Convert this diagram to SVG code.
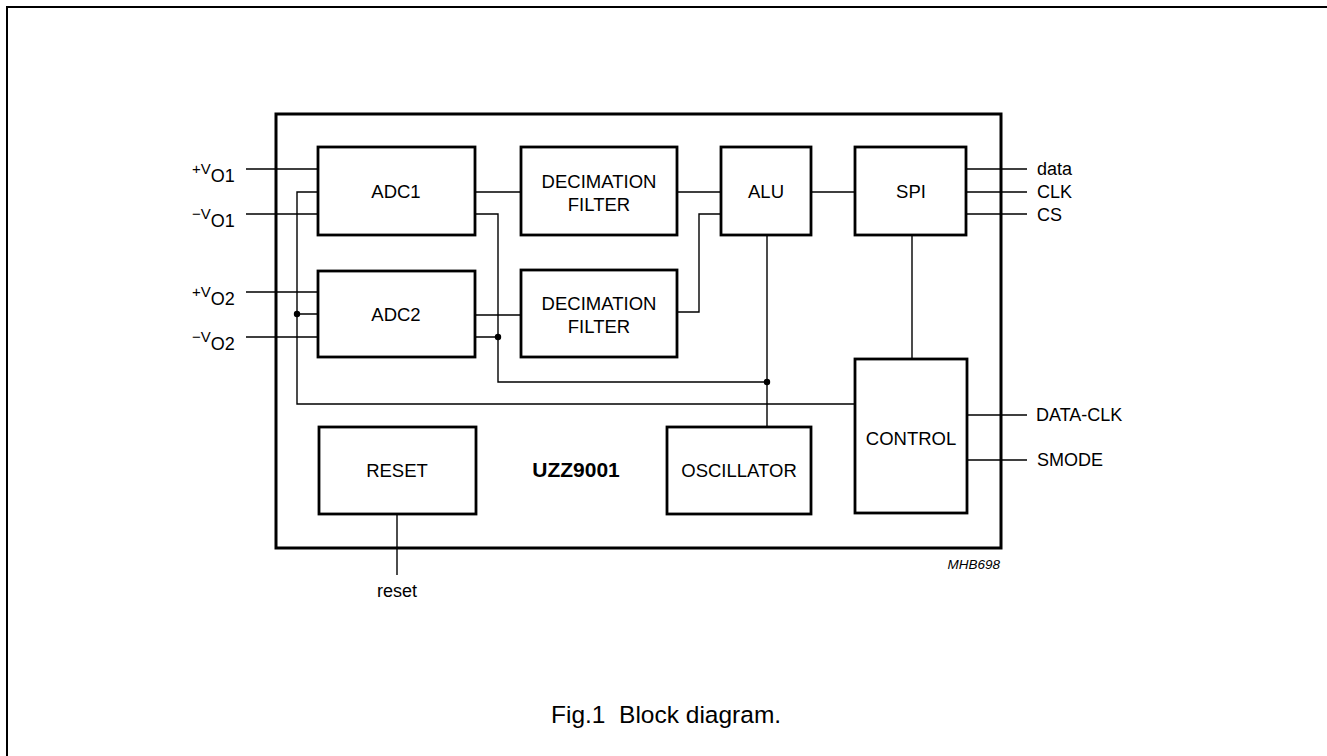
<svg xmlns="http://www.w3.org/2000/svg" width="1327" height="756" viewBox="0 0 1327 756">
<style>
.box{fill:#fff;stroke:#000;stroke-width:2.8}
.chip{fill:none;stroke:#000;stroke-width:3}
.w{fill:none;stroke:#000;stroke-width:1.4}
.t{font-family:"Liberation Sans",Arial,sans-serif;font-size:18.5px;fill:#000;text-anchor:middle}
.l{font-family:"Liberation Sans",Arial,sans-serif;font-size:18px;fill:#000}
.s{font-size:15px}
.b{font-size:21px;font-weight:bold;text-anchor:middle}
.m{font-size:13.5px;font-style:italic;text-anchor:end}
.c{font-size:24.5px}
</style>
<rect width="1327" height="756" fill="#fff"/>
<path d="M7,756 V7 H1327" fill="none" stroke="#000" stroke-width="2"/>
<rect id="chip" class="chip" x="276" y="114" width="725" height="434"/>
<g id="connectors">
<path class="w" d="M246,169 H318 M246,214 H318 M246,292 H318 M246,337 H318"/>
<path class="w" d="M318,192 H297 V404 H855 M297,314 H318"/>
<path class="w" d="M475,192 H521 M475,315 H521"/>
<path class="w" d="M475,214 H498 V382 H767 M475,337 H498"/>
<path class="w" d="M677,192 H721 M677,312 H699 V214 H721"/>
<path class="w" d="M767,235 V427 M811,192 H855 M912,235 V359"/>
<path class="w" d="M966,169 H1027 M966,192 H1027 M966,214 H1027 M967,415 H1027 M967,460 H1027"/>
<path class="w" d="M397,514 V575"/>
<circle cx="297" cy="314" r="3.2"/>
<circle cx="498" cy="337" r="3.2"/>
<circle cx="767" cy="382" r="3.2"/>
</g>
<g id="adc1"><rect class="box" x="318" y="147" width="157" height="88"/><text class="t" x="396" y="198">ADC1</text></g>
<g id="adc2"><rect class="box" x="318" y="271" width="157" height="86"/><text class="t" x="396" y="321">ADC2</text></g>
<g id="dec1"><rect class="box" x="521" y="147" width="156" height="88"/><text class="t" x="599" y="188">DECIMATION</text><text class="t" x="599" y="211">FILTER</text></g>
<g id="dec2"><rect class="box" x="521" y="270" width="156" height="87"/><text class="t" x="599" y="310">DECIMATION</text><text class="t" x="599" y="333">FILTER</text></g>
<g id="alu"><rect class="box" x="721" y="147" width="90" height="88"/><text class="t" x="766" y="198">ALU</text></g>
<g id="spi"><rect class="box" x="855" y="147" width="111" height="88"/><text class="t" x="911" y="198">SPI</text></g>
<g id="control"><rect class="box" x="855" y="359" width="112" height="154"/><text class="t" x="911" y="445">CONTROL</text></g>
<g id="reset"><rect class="box" x="319" y="427" width="157" height="87"/><text class="t" x="397" y="477">RESET</text></g>
<g id="oscillator"><rect class="box" x="667" y="427" width="144" height="87"/><text class="t" x="739" y="477">OSCILLATOR</text></g>
<g id="labels">
<text class="l" x="192" y="174"><tspan class="s">+V</tspan><tspan dy="7.5">O1</tspan></text>
<text class="l" x="192" y="219"><tspan class="s">−V</tspan><tspan dy="7.5">O1</tspan></text>
<text class="l" x="192" y="297"><tspan class="s">+V</tspan><tspan dy="7.5">O2</tspan></text>
<text class="l" x="192" y="342"><tspan class="s">−V</tspan><tspan dy="7.5">O2</tspan></text>
<text class="l" x="1037" y="175">data</text>
<text class="l" x="1037" y="198">CLK</text>
<text class="l" x="1037" y="221">CS</text>
<text class="l" x="1036" y="421">DATA-CLK</text>
<text class="l" x="1037" y="466">SMODE</text>
<text class="l" x="397" y="597" text-anchor="middle">reset</text>
<text class="l b" x="576" y="477">UZZ9001</text>
<text class="l m" x="1000" y="569">MHB698</text>
<text class="l c" x="551" y="723" xml:space="preserve">Fig.1  Block diagram.</text>
</g>
</svg>
